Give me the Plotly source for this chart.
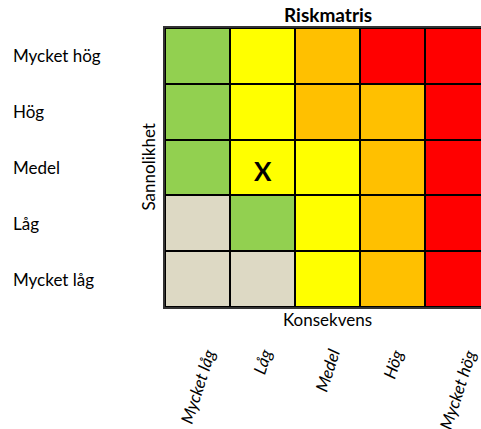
import plotly.graph_objects as go

konsekvens = ["Mycket låg", "Låg", "Medel", "Hög", "Mycket hög"]
sannolikhet = ["Mycket låg", "Låg", "Medel", "Hög", "Mycket hög"]  # bottom to top
# risk level per cell: 0=beige,1=green,2=yellow,3=orange,4=red ; rows bottom->top
risk = [
    [0, 0, 2, 3, 4],
    [0, 1, 2, 3, 4],
    [1, 2, 2, 3, 4],
    [1, 2, 3, 3, 4],
    [1, 2, 3, 4, 4],
]
level_colors = ["#DDD9C4", "#92D050", "#FFFF00", "#FFC000", "#FF0000"]
marker_cell = ("Låg", "Medel")  # (konsekvens, sannolikhet)
marker_text = "X"

FONT = "Lato, Calibri, Carlito, sans-serif"

cs = []
n = len(level_colors)
for i, c in enumerate(level_colors):
    lo = max(0, (i - 0.5) / (n - 1))
    hi = min(1, (i + 0.5) / (n - 1))
    cs.append([lo, c])
    cs.append([hi, c])

fig = go.Figure()
fig.add_trace(go.Heatmap(
    x=konsekvens, y=sannolikhet, z=risk,
    colorscale=cs, zmin=0, zmax=n - 1, showscale=False,
    xgap=2, ygap=2, hoverinfo="skip",
))

# the matrix runs past the right edge of the 481px window in the reference
W, H = 491, 429
plot_l, plot_r, plot_t, plot_b = 165, 490, 28, 307

annotations = []
# marker in the matrix
annotations.append(dict(
    x=marker_cell[0], xref="x", y=marker_cell[1], yref="y",
    xanchor="center", yanchor="middle", yshift=-3,
    text="<b>%s</b>" % marker_text, showarrow=False,
    font=dict(family=FONT, size=26, color="black"),
))
# y category labels (left aligned)
for lab in sannolikhet:
    annotations.append(dict(
        x=0, xref="paper", xshift=-(plot_l - 11), xanchor="left",
        y=lab, yref="y", yanchor="middle", text=lab, showarrow=False,
        font=dict(family=FONT, size=17, color="black"),
    ))
# x category labels (rotated, italic)
for lab in konsekvens:
    annotations.append(dict(
        x=lab, xref="x", y=0, yref="paper", yanchor="top", xanchor="center",
        yshift=-37, textangle=-72, text="<i>%s</i>" % lab, showarrow=False,
        font=dict(family=FONT, size=17, color="black"),
    ))
annotations.append(dict(
    x=0, xref="paper", xshift=-17, xanchor="center",
    y=0.5, yref="paper", yanchor="middle", text="Sannolikhet", textangle=-90,
    showarrow=False, font=dict(family=FONT, size=17, color="black"),
))
annotations.append(dict(
    x=konsekvens[2], xref="x", y=1, yref="paper", yanchor="bottom", yshift=0,
    text="<b>Riskmatris</b>", showarrow=False,
    font=dict(family=FONT, size=19, color="black"),
))
annotations.append(dict(
    x=konsekvens[2], xref="x", y=0, yref="paper", yanchor="top", yshift=0,
    text="Konsekvens", showarrow=False,
    font=dict(family=FONT, size=17, color="black"),
))

fig.update_layout(
    width=W, height=H,
    margin=dict(l=plot_l, r=W - plot_r, t=plot_t, b=H - plot_b),
    plot_bgcolor="black", paper_bgcolor="white",
    annotations=annotations,
    showlegend=False,
)
fig.update_xaxes(
    type="category", categoryorder="array", categoryarray=konsekvens,
    range=[-0.5, 4.5], showgrid=False, zeroline=False,
    showticklabels=False, ticks="", automargin=False,
    showline=True, linecolor="#333333", linewidth=2, mirror=True,
)
fig.update_yaxes(
    type="category", categoryorder="array", categoryarray=sannolikhet,
    range=[-0.5, 4.5], showgrid=False, zeroline=False, showticklabels=False,
    ticks="", automargin=False,
    showline=True, linecolor="#333333", linewidth=2, mirror=True,
)

fig.write_html(
    "out.html",
    config={"displayModeBar": False},
    post_script="document.body.style.margin='0';document.body.style.overflow='hidden';",
)
